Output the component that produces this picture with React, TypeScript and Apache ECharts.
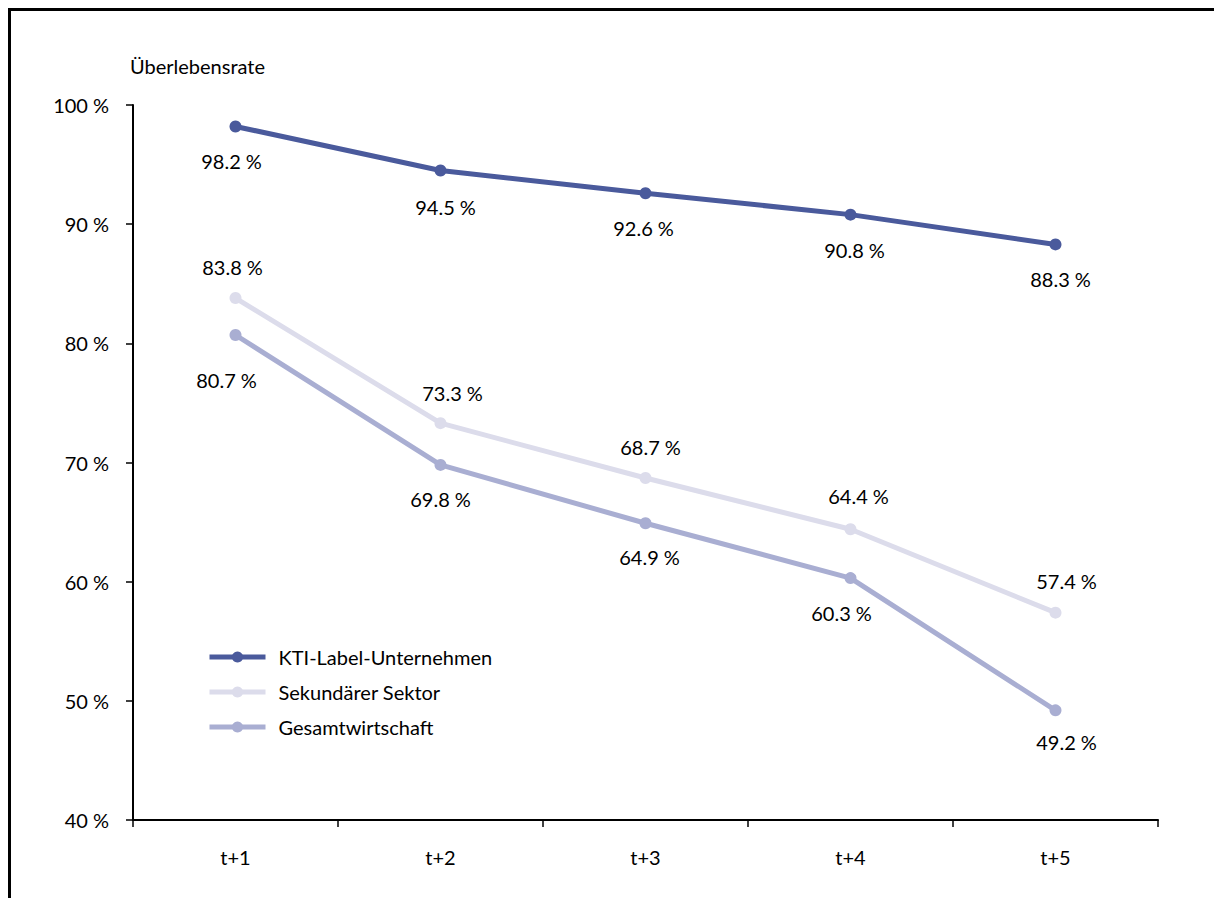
import React, { useEffect, useRef } from "react";
import * as echarts from "echarts";

const categories = ["t+1", "t+2", "t+3", "t+4", "t+5"];
const ktiValues = [98.2, 94.5, 92.6, 90.8, 88.3];
const sekundaerValues = [83.8, 73.3, 68.7, 64.4, 57.4];
const gesamtValues = [80.7, 69.8, 64.9, 60.3, 49.2];
const seriesNames = ["KTI-Label-Unternehmen", "Sekundärer Sektor", "Gesamtwirtschaft"];
const yAxisTitle = "Überlebensrate";

// label offsets (style only), relative to the point
const ktiLabelOffsets = [[-4, 35], [5, 36], [-2, 35], [4, 35], [5, 35]];
const sekLabelOffsets = [[-3, -31], [12, -30], [5, -31], [8, -33], [11, -32]];
const gesLabelOffsets = [[-9, 45], [0, 34], [4, 34], [-9, 35], [11, 32]];

const FONT = "Lato, 'Open Sans', sans-serif";

function makeSeries(name: string, values: number[], color: string, offsets: number[][]) {
  return {
    name,
    type: "line",
    data: values.map((v, i) => ({
      value: v,
      label: { offset: offsets[i] },
    })),
    symbol: "circle",
    symbolSize: 12,
    lineStyle: { color, width: 5 },
    itemStyle: { color },
    label: {
      show: true,
      position: "inside",
      formatter: (p: any) => `${p.value.toFixed(1)}\u202F%`,
      color: "#000",
      fontFamily: FONT,
      fontSize: 20,
    },
    z: 3,
  };
}

export default function App() {
  const ref = useRef<HTMLDivElement>(null);
  useEffect(() => {
    if (!ref.current) return;
    const chart = echarts.init(ref.current, null, { renderer: "svg" });
    chart.setOption({
      animation: false,
      backgroundColor: "#fff",
      textStyle: { fontFamily: FONT },
      grid: { left: 125, top: 97, right: 64, bottom: 78 },
      graphic: [
        { type: "line", shape: { x1: 0, y1: 1.5, x2: 1214, y2: 1.5 }, style: { stroke: "#000", lineWidth: 3 } },
        { type: "line", shape: { x1: 1.5, y1: 0, x2: 1.5, y2: 890 }, style: { stroke: "#000", lineWidth: 3 } },
        {
          type: "text",
          left: 122,
          top: 48,
          style: { text: yAxisTitle, fill: "#000", font: `20px ${FONT}` },
        },
      ],
      legend: {
        left: 194,
        top: 634,
        orient: "vertical",
        itemWidth: 56,
        itemHeight: 14,
        itemGap: 15,
        data: seriesNames,
        lineStyle: { width: 5 },
        textStyle: { color: "#000", fontFamily: FONT, fontSize: 20, padding: [0, 0, 0, 8] },
      },
      xAxis: {
        type: "category",
        data: categories,
        boundaryGap: true,
        axisLine: { lineStyle: { color: "#000", width: 2 } },
        axisTick: { show: true, length: 7, lineStyle: { color: "#000", width: 1.5 } },
        axisLabel: { color: "#000", fontFamily: FONT, fontSize: 20, margin: 27 },
      },
      yAxis: {
        type: "value",
        min: 40,
        max: 100,
        interval: 10,
        axisLine: { show: true, lineStyle: { color: "#000", width: 2 } },
        axisTick: { show: true, length: 7, lineStyle: { color: "#000", width: 1.5 } },
        splitLine: { show: false },
        axisLabel: {
          color: "#000",
          fontFamily: FONT,
          fontSize: 20,
          margin: 24,
          formatter: (v: number) => `${v}\u202F%`,
        },
      },
      series: [
        makeSeries(seriesNames[0], ktiValues, "#4A5A9C", ktiLabelOffsets),
        makeSeries(seriesNames[1], sekundaerValues, "#DCDCEB", sekLabelOffsets),
        makeSeries(seriesNames[2], gesamtValues, "#A9AED2", gesLabelOffsets),
      ],
    });
    return () => chart.dispose();
  }, []);
  return <div ref={ref} style={{ width: 1214, height: 890 }} />;
}
